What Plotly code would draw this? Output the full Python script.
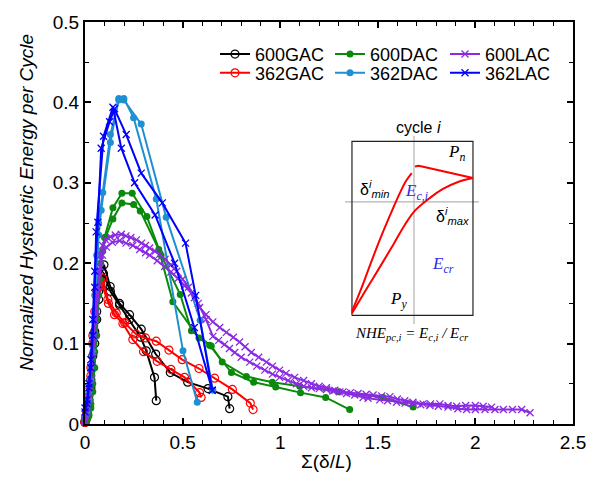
import plotly.graph_objects as go

# ---------------- data ----------------
# 600GAC
g600_a_x = [0, 0.005, 0.01, 0.02, 0.03, 0.04, 0.05, 0.06, 0.07, 0.08, 0.095, 0.13, 0.177, 0.228, 0.285, 0.314, 0.356, 0.365]
g600_a_y = [0.002, 0.006, 0.012, 0.025, 0.045, 0.07, 0.10, 0.13, 0.155, 0.175, 0.187, 0.165, 0.148, 0.13, 0.108, 0.091, 0.058, 0.029]
g600_b_x = [0, 0.005, 0.01, 0.02, 0.03, 0.04, 0.05, 0.06, 0.07, 0.08, 0.097, 0.129, 0.177, 0.228, 0.288, 0.362, 0.437, 0.526, 0.63, 0.732, 0.741]
g600_b_y = [0.003, 0.008, 0.015, 0.03, 0.055, 0.085, 0.115, 0.14, 0.165, 0.185, 0.198, 0.171, 0.150, 0.136, 0.118, 0.087, 0.064, 0.052, 0.044, 0.034, 0.019]
# 362GAC
g362_a_x = [0, 0.005, 0.01, 0.02, 0.03, 0.04, 0.05, 0.07, 0.091, 0.117, 0.16, 0.203, 0.26, 0.31, 0.365, 0.43, 0.498, 0.584, 0.664, 0.755, 0.847, 0.861]
g362_a_y = [0.002, 0.006, 0.012, 0.03, 0.06, 0.10, 0.14, 0.172, 0.181, 0.155, 0.138, 0.126, 0.112, 0.107, 0.103, 0.092, 0.080, 0.069, 0.057, 0.043, 0.026, 0.018]
g362_b_x = [0, 0.005, 0.01, 0.02, 0.03, 0.04, 0.06, 0.08, 0.12, 0.151, 0.194, 0.245, 0.30, 0.37, 0.44, 0.51, 0.587, 0.595]
g362_b_y = [0.003, 0.008, 0.015, 0.035, 0.07, 0.11, 0.165, 0.178, 0.15, 0.136, 0.125, 0.105, 0.09, 0.078, 0.068, 0.058, 0.039, 0.033]
# 600DAC
d600_a_x = [0, 0.01, 0.02, 0.03, 0.04, 0.05, 0.06, 0.07, 0.08, 0.1, 0.143, 0.189, 0.242, 0.317, 0.39, 0.488, 0.545, 0.647, 0.703, 0.827, 0.96, 1.1, 1.3, 1.527, 1.681]
d600_a_y = [0.003, 0.005, 0.01, 0.02, 0.04, 0.07, 0.11, 0.16, 0.2, 0.232, 0.269, 0.287, 0.287, 0.258, 0.21, 0.161, 0.116, 0.097, 0.077, 0.059, 0.052, 0.047, 0.040, 0.033, 0.021]
d600_b_x = [0, 0.01, 0.02, 0.03, 0.04, 0.05, 0.06, 0.075, 0.09, 0.105, 0.143, 0.189, 0.249, 0.283, 0.378, 0.45, 0.584, 0.638, 0.75, 0.864, 0.977, 1.104, 1.233, 1.356]
d600_b_y = [0.003, 0.006, 0.012, 0.025, 0.05, 0.09, 0.13, 0.18, 0.215, 0.232, 0.255, 0.275, 0.273, 0.265, 0.217, 0.152, 0.107, 0.098, 0.064, 0.052, 0.046, 0.039, 0.033, 0.018]
# 362DAC
d362_a_x = [0, 0.01, 0.02, 0.03, 0.04, 0.05, 0.06, 0.07, 0.083, 0.13, 0.173, 0.199, 0.249, 0.365, 0.502, 0.575]
d362_a_y = [0.008, 0.015, 0.03, 0.055, 0.09, 0.14, 0.19, 0.235, 0.266, 0.35, 0.405, 0.405, 0.381, 0.28, 0.091, 0.027]
d362_b_x = [0, 0.01, 0.02, 0.03, 0.04, 0.05, 0.06, 0.07, 0.091, 0.13, 0.173, 0.199, 0.288, 0.416, 0.59, 0.655]
d362_b_y = [0.01, 0.02, 0.04, 0.07, 0.11, 0.16, 0.21, 0.25, 0.288, 0.36, 0.403, 0.403, 0.373, 0.257, 0.129, 0.042]
# 600LAC
l600_a_x = [0, 0.01, 0.02, 0.03, 0.04, 0.05, 0.06, 0.07, 0.08, 0.09, 0.105, 0.13, 0.155, 0.186, 0.21, 0.235, 0.263, 0.29, 0.31, 0.331, 0.36, 0.382, 0.41, 0.44, 0.47, 0.5, 0.53, 0.56, 0.587, 0.62, 0.655, 0.69, 0.724, 0.76, 0.792, 0.82, 0.852, 0.89, 0.929, 0.96, 0.997, 1.03, 1.074, 1.12, 1.16, 1.2, 1.237, 1.28, 1.322, 1.36, 1.399, 1.44, 1.476, 1.52, 1.562, 1.6, 1.638, 1.68, 1.732, 1.77, 1.818, 1.86, 1.904, 1.95, 2.0, 2.04, 2.083]
l600_a_y = [0.005, 0.02, 0.04, 0.07, 0.10, 0.13, 0.16, 0.19, 0.21, 0.222, 0.229, 0.233, 0.235, 0.236, 0.234, 0.232, 0.229, 0.225, 0.222, 0.219, 0.215, 0.211, 0.205, 0.198, 0.19, 0.18, 0.17, 0.157, 0.145, 0.136, 0.127, 0.12, 0.114, 0.108, 0.102, 0.096, 0.089, 0.083, 0.077, 0.072, 0.067, 0.063, 0.058, 0.054, 0.05, 0.047, 0.045, 0.042, 0.04, 0.039, 0.038, 0.037, 0.036, 0.035, 0.034, 0.031, 0.029, 0.027, 0.025, 0.025, 0.025, 0.023, 0.022, 0.023, 0.023, 0.022, 0.021]
l600_b_x = [0, 0.01, 0.02, 0.03, 0.04, 0.05, 0.06, 0.07, 0.08, 0.09, 0.11, 0.14, 0.177, 0.21, 0.245, 0.28, 0.31, 0.331, 0.37, 0.408, 0.44, 0.476, 0.51, 0.545, 0.58, 0.62, 0.655, 0.685, 0.715, 0.74, 0.767, 0.8, 0.844, 0.88, 0.921, 0.96, 0.997, 1.04, 1.083, 1.12, 1.16, 1.2, 1.237, 1.27, 1.305, 1.34, 1.382, 1.425, 1.45, 1.51, 1.55, 1.596, 1.64, 1.681, 1.72, 1.767, 1.81, 1.86, 1.91, 1.955, 2.0, 2.049, 2.1, 2.143, 2.19, 2.237, 2.28]
l600_b_y = [0.003, 0.015, 0.03, 0.055, 0.085, 0.11, 0.14, 0.17, 0.195, 0.21, 0.22, 0.226, 0.228, 0.225, 0.222, 0.217, 0.213, 0.21, 0.203, 0.196, 0.189, 0.181, 0.172, 0.163, 0.15, 0.13, 0.109, 0.104, 0.099, 0.094, 0.089, 0.083, 0.077, 0.072, 0.067, 0.062, 0.058, 0.054, 0.05, 0.047, 0.045, 0.044, 0.043, 0.041, 0.04, 0.038, 0.036, 0.033, 0.032, 0.03, 0.029, 0.027, 0.026, 0.025, 0.024, 0.023, 0.022, 0.021, 0.019, 0.018, 0.018, 0.018, 0.018, 0.018, 0.018, 0.018, 0.014]
# 362LAC
l362_a_x = [0, 0.01, 0.02, 0.03, 0.04, 0.05, 0.066, 0.083, 0.126, 0.151, 0.211, 0.288, 0.396, 0.515, 0.567, 0.652]
l362_a_y = [0.02, 0.03, 0.05, 0.08, 0.13, 0.19, 0.251, 0.343, 0.376, 0.392, 0.36, 0.312, 0.275, 0.225, 0.16, 0.042]
l362_b_x = [0, 0.01, 0.02, 0.03, 0.04, 0.05, 0.057, 0.095, 0.143, 0.186, 0.254, 0.359, 0.459, 0.56, 0.652]
l362_b_y = [0.015, 0.025, 0.045, 0.07, 0.11, 0.17, 0.239, 0.358, 0.394, 0.343, 0.30, 0.26, 0.20, 0.12, 0.042]

series_names = ["600GAC", "362GAC", "600DAC", "362DAC", "600LAC", "362LAC"]

# inset schematic (unit coordinates of the inset panel)
inset_box_x = [0.052, 0.955, 0.955, 0.052, 0.052]
inset_box_y = [0.047, 0.047, 0.969, 0.969, 0.047]
inset_vline_x = [0.515, 0.515]
inset_vline_y = [0.0, 1.0]
inset_hline_x = [0.0, 1.0]
inset_hline_y = [0.649, 0.649]
inset_lower_x = [0.052, 0.149, 0.261, 0.358, 0.448, 0.522, 0.634, 0.731, 0.843, 0.955]
inset_lower_y = [0.058, 0.173, 0.304, 0.419, 0.529, 0.602, 0.670, 0.717, 0.754, 0.775]
inset_upper1_x = [0.052, 0.127, 0.201, 0.276, 0.351, 0.41, 0.455, 0.498]
inset_upper1_y = [0.068, 0.199, 0.340, 0.476, 0.602, 0.696, 0.759, 0.801]
inset_upper2_x = [0.522, 0.55, 0.6, 0.7, 0.8, 0.955]
inset_upper2_y = [0.836, 0.84, 0.832, 0.815, 0.798, 0.775]

# ---------------- styling ----------------
colors = {"600GAC": "#000000", "362GAC": "#ff0000", "600DAC": "#0a8a0a",
          "362DAC": "#1e90d2", "600LAC": "#8a2be2", "362LAC": "#0000ff"}
SANS = "Liberation Sans, Arial, sans-serif"
SERIF = "Liberation Serif, Times New Roman, serif"

def marker_for(name):
    c = colors[name]
    if name.endswith("GAC"):
        return dict(symbol="circle-open", size=8, color=c, line=dict(width=1.2, color=c))
    if name.endswith("DAC"):
        return dict(symbol="circle", size=7, color=c)
    return dict(symbol="x-thin", size=7, color=c, line=dict(width=1.3, color=c))

branches = {
    "600GAC": [(g600_a_x, g600_a_y), (g600_b_x, g600_b_y)],
    "362GAC": [(g362_a_x, g362_a_y), (g362_b_x, g362_b_y)],
    "600DAC": [(d600_a_x, d600_a_y), (d600_b_x, d600_b_y)],
    "362DAC": [(d362_a_x, d362_a_y), (d362_b_x, d362_b_y)],
    "600LAC": [(l600_a_x, l600_a_y), (l600_b_x, l600_b_y)],
    "362LAC": [(l362_a_x, l362_a_y), (l362_b_x, l362_b_y)],
}

fig = go.Figure()
for name in series_names:
    leg = "legend" if name.startswith("600") else "legend2"
    for k, (bx, by) in enumerate(branches[name]):
        fig.add_trace(go.Scatter(
            x=bx, y=by, mode="lines+markers", name=name,
            legendgroup=name, showlegend=(k == 0), legend=leg,
            line=dict(color=colors[name], width=2),
            marker=marker_for(name), cliponaxis=False,
            xaxis="x", yaxis="y"))

# inset traces
gray = "#b4b4b4"
for xs, ys, col, w, shp in [(inset_vline_x, inset_vline_y, gray, 1.2, "linear"),
                            (inset_hline_x, inset_hline_y, gray, 1.2, "linear"),
                            (inset_box_x, inset_box_y, "#222222", 1.2, "linear"),
                            (inset_lower_x, inset_lower_y, "#ff0000", 2, "spline"),
                            (inset_upper1_x, inset_upper1_y, "#ff0000", 2, "spline"),
                            (inset_upper2_x, inset_upper2_y, "#ff0000", 2, "linear")]:
    fig.add_trace(go.Scatter(x=xs, y=ys, mode="lines", showlegend=False,
                             line=dict(color=col, width=w, shape=shp),
                             xaxis="x2", yaxis="y2", hoverinfo="skip", cliponaxis=False))

L, R, T, B = 85, 28, 17, 53
W, H = 601, 477
pw, ph = W - L - R, H - T - B

def px2paper_x(px):
    return (px - L) / pw

def px2paper_y(py):
    return (H - B - py) / ph

axis_common = dict(showline=True, linewidth=2, linecolor="black", mirror="allticks",
                   ticks="inside", ticklen=6, tickwidth=1.5, tickcolor="black",
                   showgrid=False, zeroline=False,
                   tickfont=dict(family=SANS, size=19, color="black"))

leg_common = dict(orientation="h", xanchor="left", yanchor="top",
                  entrywidth=70, entrywidthmode="pixels", itemwidth=30,
                  font=dict(family=SANS, size=18, color="black"), bgcolor="rgba(0,0,0,0)")

fig.update_layout(
    width=W, height=H,
    margin=dict(l=L, r=R, t=T, b=B),
    plot_bgcolor="white", paper_bgcolor="white",
    xaxis=dict(range=[0, 2.5], dtick=0.5, tick0=0,
               minor=dict(dtick=0.1, ticks="inside", ticklen=4, tickcolor="black", tickwidth=1),
               **axis_common),
    yaxis=dict(range=[0, 0.5], dtick=0.1, tick0=0,
               minor=dict(dtick=0.05, ticks="inside", ticklen=4, tickcolor="black", tickwidth=1),
               **axis_common),
    xaxis2=dict(domain=[px2paper_x(345), px2paper_x(479)], range=[0, 1], visible=False,
                anchor="y2", fixedrange=True),
    yaxis2=dict(domain=[px2paper_y(323), px2paper_y(132)], range=[0, 1], visible=False,
                anchor="x2", fixedrange=True),
    legend=dict(x=px2paper_x(215), y=px2paper_y(31), **leg_common),
    legend2=dict(x=px2paper_x(215), y=px2paper_y(50), **leg_common),
)

ann = []
# axis titles
ann.append(dict(text="<i>Normalized Hysteretic Energy per Cycle</i>", textangle=-90,
                xref="paper", yref="paper", x=px2paper_x(27), y=px2paper_y(200),
                xanchor="center", yanchor="middle",
                showarrow=False, font=dict(family=SANS, size=19, color="black")))
ann.append(dict(text="Σ(δ/<i>L</i>)", xref="paper", yref="paper",
                x=px2paper_x(326), y=px2paper_y(462), xanchor="center", yanchor="middle",
                showarrow=False, font=dict(family=SANS, size=19, color="black")))
# inset labels outside the inset panel (paper positions)
ann.append(dict(text="cycle <i>i</i>", xref="paper", yref="paper",
                x=px2paper_x(418), y=px2paper_y(124), xanchor="center", yanchor="middle",
                showarrow=False, font=dict(family=SANS, size=16, color="black")))
ann.append(dict(text="<i>NHE<sub>pc,i</sub> = E<sub>c,i</sub> / E<sub>cr</sub></i>",
                xref="paper", yref="paper", x=px2paper_x(412), y=px2paper_y(333),
                xanchor="center", yanchor="middle",
                showarrow=False, font=dict(family=SERIF, size=15, color="black")))
# inset labels inside the panel
blue = "#2b2bea"
inset_labels = [
    ("<i>P<sub>n</sub></i>", 0.83, 0.91, SERIF, 17, "black"),
    ("δ<sup><i>i</i></sup><sub><i>min</i></sub>", 0.22, 0.715, SANS, 16, "black"),
    ("<i>E<sub>c,i</sub></i>", 0.53, 0.70, SERIF, 17, blue),
    ("δ<sup><i>i</i></sup><sub><i>max</i></sub>", 0.80, 0.575, SANS, 16, "black"),
    ("<i>E<sub>cr</sub></i>", 0.73, 0.315, SERIF, 17, blue),
    ("<i>P<sub>y</sub></i>", 0.40, 0.13, SERIF, 17, "black"),
]
for t, x, y, fam, sz, col in inset_labels:
    ann.append(dict(text=t, xref="x2", yref="y2", x=x, y=y, showarrow=False,
                    xanchor="center", yanchor="middle",
                    font=dict(family=fam, size=sz, color=col)))
fig.update_layout(annotations=ann)

fig.write_html("out.html")
